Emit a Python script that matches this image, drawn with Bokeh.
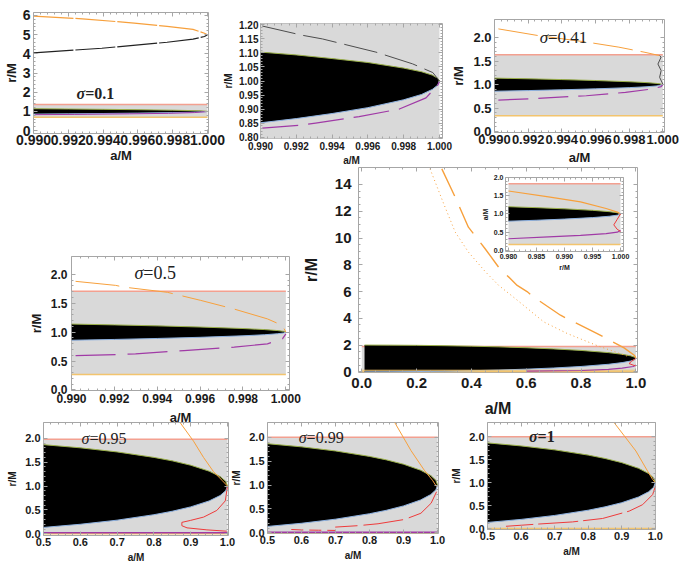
import numpy as np
from bokeh.plotting import figure
from bokeh.models import Range1d, LinearAxis, FixedTicker, Label
from bokeh.layouts import column
from bokeh.embed import file_html
from bokeh.resources import INLINE

# ------------------------------------------------------------------ data
hz_a = [0.990, 0.992, 0.994, 0.996, 0.998, 0.999, 0.9996, 0.9999, 1.000]
hz_rp = [1.140, 1.126, 1.109, 1.089, 1.063, 1.045, 1.028, 1.014, 1.000]
hz_rm = [0.860, 0.874, 0.891, 0.911, 0.937, 0.955, 0.972, 0.986, 1.000]
# black region as read in the zoomed sigma = 0.1 panel
hz2_rp = [1.103, 1.093, 1.080, 1.066, 1.046, 1.033, 1.021, 1.010, 1.000]
hz2_rm = [0.851, 0.866, 0.884, 0.905, 0.933, 0.952, 0.970, 0.985, 1.000]
hzi_a = [0.980, 0.985, 0.990, 0.995, 0.998, 0.9995, 1.000]
hzi_rp = [1.199, 1.173, 1.141, 1.100, 1.063, 1.032, 1.000]
hzi_rm = [0.801, 0.827, 0.859, 0.900, 0.937, 0.968, 1.000]
hzf_a = [0.01, 0.1, 0.2, 0.3, 0.4, 0.5, 0.6, 0.7, 0.8, 0.9, 0.95, 0.98, 0.995, 1.0]
hzf_rp = [2.0, 1.995, 1.98, 1.954, 1.917, 1.866, 1.8, 1.714, 1.6, 1.436, 1.312, 1.199, 1.1, 1.0]
hzf_rm = [0.0, 0.005, 0.02, 0.046, 0.083, 0.134, 0.2, 0.286, 0.4, 0.564, 0.688, 0.801, 0.9, 1.0]
hzb_a = [0.5, 0.6, 0.7, 0.8, 0.85, 0.9, 0.95, 0.98, 0.995, 1.0]
hzb_rp = [1.866, 1.8, 1.714, 1.6, 1.527, 1.436, 1.312, 1.199, 1.1, 1.0]
hzb_rm = [0.134, 0.2, 0.286, 0.4, 0.473, 0.564, 0.688, 0.801, 0.9, 1.0]

s01_band = [0.70, 1.36]
s01_orange_a = [0.990, 0.993, 0.99579, 0.99768, 0.99917, 0.99983, 1.000]
s01_orange_r = [5.96, 5.81, 5.60, 5.43, 5.27, 5.07, 4.99]
s01_black_a = [0.990, 0.99393, 0.99768, 0.99917, 0.99983, 1.000]
s01_black_r = [4.05, 4.29, 4.60, 4.76, 4.90, 4.99]
s01_grey_a = [0.9901, 0.99234, 0.99346, 0.99645, 0.9985, 0.99963, 1.000]
s01_grey_r = [1.196, 1.163, 1.150, 1.103, 1.061, 1.030, 1.000]
s01_mag_a = [0.9901, 0.99234, 0.99308, 0.99551, 0.99776, 0.99925, 0.9999, 1.000]
s01_mag_r = [0.832, 0.843, 0.850, 0.873, 0.900, 0.940, 0.985, 0.997]

s041_band = [0.336, 1.64]
s041_orange_a = [0.99023, 0.99255, 0.99545, 0.99739, 0.99894, 0.99981]
s041_orange_r = [2.19, 2.05, 1.91, 1.80, 1.69, 1.62]
s041_grey_a = [0.99981, 0.99990, 0.99971, 0.99990, 0.99981, 1.000]
s041_grey_r = [1.62, 1.59, 1.44, 1.30, 1.157, 1.014]
s041_mag_a = [0.99023, 0.99217, 0.99284, 0.99545, 0.99778, 0.99932, 0.9999, 1.000]
s041_mag_r = [0.671, 0.700, 0.714, 0.764, 0.836, 0.907, 0.957, 1.000]

s05_band = [0.266, 1.71]
s05_orange_a = [0.99019, 0.99206, 0.99245, 0.99447, 0.99603, 0.99759, 0.99914, 0.99984, 1.000]
s05_orange_r = [1.88, 1.81, 1.78, 1.69, 1.55, 1.40, 1.23, 1.116, 1.00]
s05_mag_a = [0.99019, 0.99221, 0.99299, 0.99525, 0.99759, 0.99914, 0.99984, 1.000]
s05_mag_r = [0.595, 0.613, 0.624, 0.682, 0.740, 0.798, 0.884, 0.970]

full_band = [0.0, 1.90]
full_low_line = 0.12
full_orangeA_a = [0.292, 0.341, 0.389, 0.45, 0.499, 0.567, 0.603, 0.627, 0.725, 0.859, 0.957, 0.994, 1.0]
full_orangeA_r = [15.17, 13.05, 10.81, 9.2, 7.83, 6.46, 6.0, 5.59, 4.23, 2.86, 1.79, 1.24, 1.05]
full_orangeB_a = [0.249, 0.30, 0.341, 0.389, 0.45, 0.499, 0.567, 0.664, 0.75, 0.86, 0.93, 0.976]
full_orangeB_r = [15.17, 12.5, 10.44, 8.95, 7.5, 6.47, 5.36, 3.73, 2.86, 1.95, 1.45, 1.12]
full_mag_a = [0.6, 0.8, 0.9, 0.95, 0.99, 1.0]
full_mag_r = [0.05, 0.1, 0.18, 0.28, 0.4, 0.5]
full_red_a = [1.0, 0.985, 0.975, 0.99, 1.0]
full_red_r = [1.0, 0.8, 0.62, 0.5, 0.45]

ins_band = [0.165, 1.83]
ins_orange_a = [0.980, 0.98714, 0.99286, 0.99743, 0.99943, 1.000]
ins_orange_r = [1.63, 1.47, 1.33, 1.15, 1.05, 1.00]
ins_mag_a = [0.980, 0.98714, 0.99286, 0.99743, 0.99943, 1.000]
ins_mag_r = [0.32, 0.37, 0.41, 0.46, 0.50, 0.55]
ins_red_a = [1.000, 0.9994, 0.9988, 0.9994, 1.000]
ins_red_r = [1.00, 0.85, 0.70, 0.58, 0.52]

s095_band = [0.0, 1.98]
s095_orange_a = [0.871, 0.9076, 0.9348, 0.962, 0.985, 1.0]
s095_orange_r = [2.33, 1.94, 1.60, 1.30, 1.12, 1.00]
s095_red_a = [1.0, 0.994, 0.971, 0.935, 0.899, 0.876, 0.876, 0.89, 0.944, 0.998]
s095_red_r = [1.0, 0.69, 0.49, 0.35, 0.28, 0.24, 0.17, 0.125, 0.083, 0.055]
s095_mag_a = [0.5, 0.7, 0.9, 1.0]
s095_mag_r = [0.02, 0.02, 0.02, 0.02]

s099_band = [0.0, 2.0]
s099_orange_a = [0.874, 0.922, 0.961, 0.985, 0.997]
s099_orange_r = [2.31, 1.72, 1.31, 1.10, 0.97]
s099_red_a = [0.997, 0.981, 0.951, 0.903, 0.825, 0.767, 0.699]
s099_red_r = [0.86, 0.62, 0.41, 0.28, 0.19, 0.15, 0.12]
s099_red2_a = [0.57, 0.60, 0.65, 0.70]
s099_red2_r = [0.07, 0.06, 0.055, 0.05]
s099_mag_a = [0.5, 0.7, 0.9, 1.0]
s099_mag_r = [0.01, 0.01, 0.01, 0.01]

s1_band = [0.0, 2.0]
s1_orange_a = [0.878, 0.942, 0.977, 0.992, 1.0]
s1_orange_r = [2.30, 1.69, 1.25, 1.07, 1.00]
s1_red_a = [1.0, 0.992, 0.962, 0.922, 0.843, 0.753, 0.654, 0.555]
s1_red_r = [0.92, 0.74, 0.52, 0.38, 0.22, 0.145, 0.10, 0.05]

tk_zoom = [0.990, 0.992, 0.994, 0.996, 0.998, 1.000]
tk_zoom_lab = ["0.990", "0.992", "0.994", "0.996", "0.998", "1.000"]
tk_p1_y = [0, 1, 2, 3, 4, 5, 6]
tk_p1_y_lab = ["0", "1", "2", "3", "4", "5", "6"]
tk_p2_y = [0.80, 0.85, 0.90, 0.95, 1.00, 1.05, 1.10, 1.15, 1.20]
tk_p2_y_lab = ["0.80", "0.85", "0.90", "0.95", "1.00", "1.05", "1.10", "1.15", "1.20"]
tk_half = [0.0, 0.5, 1.0, 1.5, 2.0]
tk_half_lab = ["0.0", "0.5", "1.0", "1.5", "2.0"]
tk_full_x = [0.0, 0.2, 0.4, 0.6, 0.8, 1.0]
tk_full_x_lab = ["0.0", "0.2", "0.4", "0.6", "0.8", "1.0"]
tk_full_y = [0, 2, 4, 6, 8, 10, 12, 14]
tk_full_y_lab = ["0", "2", "4", "6", "8", "10", "12", "14"]
tk_ins_x = [0.980, 0.985, 0.990, 0.995, 1.000]
tk_ins_x_lab = ["0.980", "0.985", "0.990", "0.995", "1.000"]
tk_bot_x = [0.5, 0.6, 0.7, 0.8, 0.9, 1.0]
tk_bot_x_lab = ["0.5", "0.6", "0.7", "0.8", "0.9", "1.0"]

# ------------------------------------------------------------------ style
GREY = "#d9d9d9"
FRAME = "#a6a6a6"
SALMON = "#f3a090"
ORANGE = "#f7a03c"
YELLOW = "#f2c46e"
MAGENTA = "#a03aa6"
DGREY = "#4d4d4d"
RED = "#ee3a3a"
SANS = "Liberation Sans"
SERIF = "Liberation Serif"


def minor_between(ticks, n):
    out = []
    for t0, t1 in zip(ticks[:-1], ticks[1:]):
        step = (t1 - t0) / n
        out += [t0 + k * step for k in range(1, n)]
    return out


def panel(frame, xr, yr, xt, xtl, yt, ytl, fs, lfs, xlab="a/M", ylab="r/M",
          xstand=(2, 2), ystand=(3, 3), nminor=(5, 5), L=80, R=20, T=40, B=40):
    x0, y0, x1, y1 = frame
    p = figure(frame_width=x1 - x0, frame_height=y1 - y0,
               x_range=Range1d(*xr), y_range=Range1d(*yr),
               output_backend="svg", toolbar_location=None,
               x_axis_location=None, y_axis_location=None,
               min_border_left=L, min_border_right=R,
               min_border_top=T, min_border_bottom=B)
    p.border_fill_color = None
    p.background_fill_color = "white"
    p.outline_line_color = FRAME
    p.grid.visible = False
    # place the plot frame at the given window position
    p.styles = {"position": "absolute", "left": f"{x0 - L}px",
                "top": f"{y0 - T}px"}
    xtk = FixedTicker(ticks=xt, minor_ticks=minor_between(xt, nminor[0]))
    ytk = FixedTicker(ticks=yt, minor_ticks=minor_between(yt, nminor[1]))
    for loc, tk, labs, title, stand in (("below", xtk, xtl, xlab, xstand),
                                        ("left", ytk, ytl, ylab, ystand),
                                        ("above", xtk, None, None, None),
                                        ("right", ytk, None, None, None)):
        ax = LinearAxis(ticker=tk)
        ax.axis_line_color = None
        ax.major_tick_line_color = FRAME
        ax.minor_tick_line_color = FRAME
        ax.major_tick_in = 4
        ax.major_tick_out = 0
        ax.minor_tick_in = 2
        ax.minor_tick_out = 0
        if labs is None:
            ax.major_label_text_font_size = "1px"
            ax.major_label_text_alpha = 0
            ax.major_label_standoff = 0
        else:
            ax.major_label_overrides = dict(zip(tk.ticks, labs))
            ax.major_label_text_font = SANS
            ax.major_label_text_font_style = "bold"
            ax.major_label_text_font_size = f"{fs}px"
            ax.major_label_text_color = "#1a1a1a"
            ax.major_label_standoff = stand[0]
            ax.axis_label = title
            ax.axis_label_text_font = SANS
            ax.axis_label_text_font_style = "bold"
            ax.axis_label_text_font_size = f"{lfs}px"
            ax.axis_label_text_color = "#1a1a1a"
            ax.axis_label_standoff = stand[1]
        p.add_layout(ax, loc)
    return p


def band(p, a0, a1, b):
    p.quad(left=[a0], right=[a1], bottom=[b[0]], top=[b[1]],
           fill_color=GREY, line_color=None)
    p.line([a0, a1], [b[1], b[1]], line_color=SALMON, line_width=1.5)
    p.line([a0, a1], [b[0], b[0]], line_color=YELLOW, line_width=1.5)


def horizon(p, a, rp, rm):
    p.varea(x=a, y1=rm, y2=rp, fill_color="black")
    p.line(a, rp, line_color="#9bb04a", line_width=1)
    p.line(a, rm, line_color="#8fb2e0", line_width=1)


def sigma(p, x, y, num, size, bold=False):
    # italic sigma to the left of the anchor, "=value" to its right
    style = "bold" if bold else "normal"
    p.add_layout(Label(x=x, y=y, text="σ", text_font=SERIF,
                       text_font_size=f"{size}px",
                       text_font_style="bold italic" if bold else "italic",
                       text_align="right", text_baseline="middle",
                       text_color="#222222"))
    p.add_layout(Label(x=x, y=y, text="=" + num, text_font=SERIF,
                       text_font_size=f"{size}px", text_font_style=style,
                       text_align="left", text_baseline="middle",
                       text_color="#222222"))


figs = []

# ---------- sigma = 0.1, large r range
p1 = panel((33, 12, 208, 133), (0.990, 1.00006), (-0.15, 6.15),
           tk_zoom, tk_zoom_lab, tk_p1_y, tk_p1_y_lab, 14, 13,
           xstand=(1, 0), ystand=(3, 1), B=40)
band(p1, 0.990, 1.000, s01_band)
horizon(p1, hz_a, hz_rp, hz_rm)
p1.line(s01_mag_a, s01_mag_r, line_color=MAGENTA, line_width=1)
p1.line(s01_orange_a, s01_orange_r, line_color=ORANGE, line_width=1.2, line_dash="40 2")
p1.line(s01_black_a, s01_black_r, line_color="#222222", line_width=1.2, line_dash="40 2")
sigma(p1, 0.99297, 1.95, "0.1", 16, bold=True)
figs.append(p1)

# ---------- zoom of sigma = 0.1
p2 = panel((260, 23, 442, 138), (0.990, 1.00017), (0.795, 1.205),
           tk_zoom, tk_zoom_lab, tk_p2_y, tk_p2_y_lab, 10, 10,
           xstand=(3, 2), ystand=(2, 2), B=35)
band(p2, 0.990, 1.000, s01_band)
horizon(p2, hz_a, hz2_rp, hz2_rm)
p2.line(s01_grey_a, s01_grey_r, line_color=DGREY, line_width=1, line_dash="34 8")
p2.line(s01_mag_a, s01_mag_r, line_color=MAGENTA, line_width=1.2, line_dash="36 10")
figs.append(p2)

# ---------- sigma = 0.41
p3 = panel((494, 19, 664, 132), (0.990, 1.0001), (-0.02, 2.39),
           tk_zoom, tk_zoom_lab, tk_half, tk_half_lab, 13, 13,
           xstand=(2, 3), ystand=(3, 4), R=21, B=40)
band(p3, 0.990, 1.000, s041_band)
horizon(p3, hz_a, hz_rp, hz_rm)
p3.line(s041_orange_a, s041_orange_r, line_color=ORANGE, line_width=1, line_dash="40 8")
p3.line(s041_grey_a, s041_grey_r, line_color=DGREY, line_width=1)
p3.line(s041_mag_a, s041_mag_r, line_color=MAGENTA, line_width=1.2, line_dash="30 10")
sigma(p3, 0.99318, 2.0, "0.41", 17)
figs.append(p3)

# ---------- sigma = 0.5
p4 = panel((71, 256, 289, 390), (0.990, 1.00017), (-0.01, 2.31),
           tk_zoom, tk_zoom_lab, tk_half, tk_half_lab, 12, 13,
           xstand=(3, 4), ystand=(4, 4), B=35)
band(p4, 0.990, 1.000, s05_band)
horizon(p4, hz_a, hz_rp, hz_rm)
p4.line(s05_orange_a, s05_orange_r, line_color=ORANGE, line_width=1, line_dash="44 10")
p4.line(s05_mag_a, s05_mag_r, line_color=MAGENTA, line_width=1.2, line_dash="40 12")
sigma(p4, 0.99335, 2.02, "0.5", 18)
figs.append(p4)

# ---------- full range
p5 = panel((358, 167, 637, 372), (-0.012, 1.006), (-0.05, 15.27),
           tk_full_x, tk_full_x_lab, tk_full_y, tk_full_y_lab, 15, 16,
           xstand=(5, 9), ystand=(7, 12), nminor=(4, 4), B=48)
band(p5, 0.0, 1.0, full_band)
horizon(p5, hzf_a, hzf_rp, hzf_rm)
p5.line([0.0, 1.0], [full_low_line, full_low_line], line_color=YELLOW, line_width=1.2)
p5.line(full_mag_a, full_mag_r, line_color=MAGENTA, line_width=1.2)
p5.line(full_red_a, full_red_r, line_color=RED, line_width=1)
p5.line(full_orangeA_a, full_orangeA_r, line_color=ORANGE, line_width=1.4, line_dash="30 12")
p5.line(full_orangeB_a, full_orangeB_r, line_color=ORANGE, line_width=1, line_dash="1 3")
figs.append(p5)

# ---------- inset
pi = panel((505, 177, 623, 251), (0.97947, 1.00053), (-0.03, 2.0),
           tk_ins_x, tk_ins_x_lab, tk_half, tk_half_lab, 7, 7,
           xlab="r/M", ylab="a/M", xstand=(2, 2), ystand=(2, 2),
           L=80, R=20, T=10, B=30)
band(pi, 0.980, 1.000, ins_band)
horizon(pi, hzi_a, hzi_rp, hzi_rm)
pi.line(ins_orange_a, ins_orange_r, line_color=ORANGE, line_width=1.2)
pi.line(ins_mag_a, ins_mag_r, line_color=MAGENTA, line_width=1.2)
pi.line(ins_red_a, ins_red_r, line_color=RED, line_width=1)
figs.append(pi)


def bottom(frame, yr, xr_end, bnd, orange, red_list, mag, lab, lab_x, bold):
    p = panel(frame, (0.5, xr_end), yr, tk_bot_x, tk_bot_x_lab, tk_half, tk_half_lab,
              11, 10, xstand=(2, 3), ystand=(3, 4), B=30)
    band(p, 0.5, 1.0, bnd)
    horizon(p, hzb_a, hzb_rp, hzb_rm)
    if mag is not None:
        p.line(mag[0], mag[1], line_color=MAGENTA, line_width=1.5)
    for ra, rr, dash in red_list:
        p.line(ra, rr, line_color=RED, line_width=1, line_dash=dash)
    p.line(orange[0], orange[1], line_color=ORANGE, line_width=1)
    sigma(p, lab_x, 2.0, lab, 16, bold)
    return p


p6 = bottom((43, 422, 228, 535), (-0.035, 2.33), 1.0027, s095_band,
            (s095_orange_a, s095_orange_r), [(s095_red_a, s095_red_r, "solid")],
            (s095_mag_a, s095_mag_r), "0.95", 0.625, False)
p7 = bottom((267, 422, 438, 533), (-0.014, 2.31), 1.0027, s099_band,
            (s099_orange_a, s099_orange_r),
            [(s099_red_a, s099_red_r, "40 6"), (s099_red2_a, s099_red2_r, "12 6")],
            (s099_mag_a, s099_mag_r), "0.99", 0.615, False)
p8 = bottom((487, 422, 655, 529), (-0.02, 2.31), 1.0005, s1_band,
            (s1_orange_a, s1_orange_r), [(s1_red_a, s1_red_r, "40 5")],
            None, "1", 0.649, True)
figs += [p6, p7, p8]

root = column(*figs, width=669, height=549)

open("out.html", "w").write(file_html(root, INLINE))
